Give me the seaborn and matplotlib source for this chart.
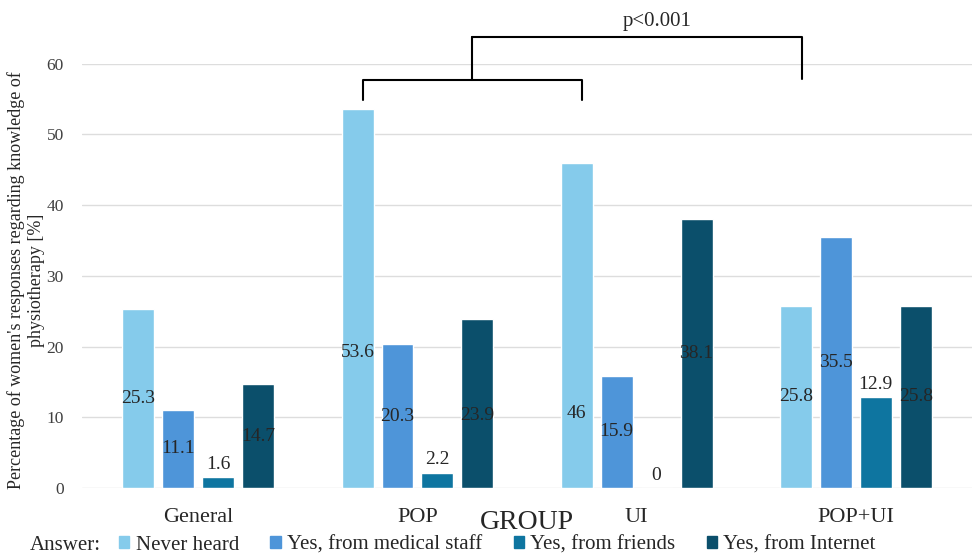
import matplotlib
matplotlib.use("Agg")
import matplotlib.pyplot as plt
import pandas as pd
import seaborn as sns

groups = ["General", "POP", "UI", "POP+UI"]
answers = ["Never heard", "Yes, from medical staff", "Yes, from friends", "Yes, from Internet"]
never_heard = [25.3, 53.6, 46.0, 25.8]
medical_staff = [11.1, 20.3, 15.9, 35.5]
friends = [1.6, 2.2, 0.0, 12.9]
internet = [14.7, 23.9, 38.1, 25.8]
value_text = [["25.3", "53.6", "46", "25.8"],
              ["11.1", "20.3", "15.9", "35.5"],
              ["1.6", "2.2", "0", "12.9"],
              ["14.7", "23.9", "38.1", "25.8"]]

colors = ["#85CBEB", "#4E95D9", "#0E75A0", "#0B4F6B"]

df = pd.DataFrame({
    "Group": groups * 4,
    "Answer": [a for a in answers for _ in groups],
    "Value": never_heard + medical_staff + friends + internet,
})

sns.set_style("white")
plt.rcParams["font.family"] = ["Liberation Serif", "DejaVu Serif"]

fig = plt.figure(figsize=(9.76, 5.54), dpi=100)
ax = fig.add_axes([0.084, 0.119, 0.912, 0.766])
sns.barplot(df, x="Group", y="Value", hue="Answer", palette=colors, saturation=1,
            width=0.73, gap=0.2, legend=False, ax=ax)

ax.set_ylim(0, 60)
ax.set_yticks(range(0, 61, 10))
ax.yaxis.grid(True, color="#DDDDDD", linewidth=1)
ax.set_axisbelow(True)
for s in ax.spines.values():
    s.set_visible(False)
ax.tick_params(axis="y", labelsize=12.5, colors="#404040", pad=13, length=0)
ax.tick_params(axis="x", labelsize=16, pad=14, length=0)
ax.set_xlabel("GROUP", fontsize=20, labelpad=-12)
ax.set_ylabel("Percentage of women's responses regarding knowledge of\nphysiotherapy [%]",
              fontsize=13)
ax.yaxis.set_label_coords(-0.042, 0.49)

# data labels: centred, small teal bars above, a few moved by hand in the original
moved = {(0, 1): 19.1, (0, 2): 10.5, (3, 1): 10.2}
for i, cont in enumerate(ax.containers):
    for j, bar in enumerate(cont):
        x = bar.get_x() + bar.get_width() / 2
        h = bar.get_height()
        if i == 2:
            ax.text(x, h + 0.6, value_text[i][j], ha="center", va="bottom", fontsize=14)
        else:
            y = moved.get((i, j), h / 2)
            ax.text(x, y, value_text[i][j], ha="center", va="center", fontsize=14)

# significance brackets
kw = dict(color="black", linewidth=1.5, clip_on=False, solid_capstyle="round")
ax.plot([0.753, 0.753, 1.75, 1.75], [54.9, 57.7, 57.7, 54.9], **kw)
ax.plot([1.249, 1.249], [57.7, 63.8], **kw)
ax.plot([1.249, 2.757, 2.757], [63.8, 63.8, 57.9], **kw)
ax.text(2.095, 65.9, "p<0.001", ha="center", va="center", fontsize=15, clip_on=False)

handles = [plt.Rectangle((0, 0), 1, 1, color=c) for c in colors]
fig.text(0.031, 0.016, "Answer:", fontsize=15, va="center")
fig.legend(handles, answers, loc="center left", bbox_to_anchor=(0.122, 0.016), ncol=4,
           frameon=False, fontsize=15, handlelength=0.5, handleheight=0.5,
           handletextpad=0.3, columnspacing=1.5, borderpad=0, borderaxespad=0)

fig.savefig("out.png", dpi=100)
